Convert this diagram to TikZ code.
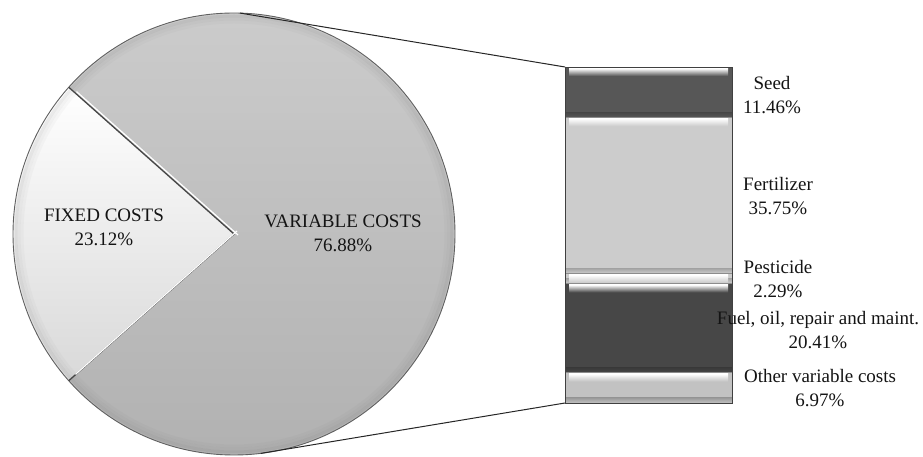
\documentclass[tikz,border=0pt]{standalone}
\usepackage{fontspec}
\setmainfont{Liberation Serif}
\begin{document}
\begin{tikzpicture}[x=1pt,y=1pt,
  lbl/.style={align=center, inner sep=0pt, text=black!92,
    font=\fontsize{19}{24}\selectfont},
  rim/.style={draw=gray!75!black, line width=0.9pt},
  link/.style={draw=black!85, line width=1pt}]
\useasboundingbox (0,0) rectangle (923,457);

% ---------- pie: fixed vs variable costs ----------
\definecolor{vartop}{gray}{0.80}
\definecolor{varbot}{gray}{0.69}
\definecolor{fixbot}{gray}{0.85}
\begin{scope}[shift={(234,223)}]
  % variable costs slice (76.88%)
  \shade[top color=vartop, bottom color=varbot]
    (0,0) -- (-138.4:221) arc[start angle=-138.4, end angle=138.4, radius=221] -- cycle;
  % fixed costs slice (23.12%)
  \shade[top color=white, bottom color=fixbot]
    (0,0) -- (138.4:221) arc[start angle=138.4, end angle=221.6, radius=221] -- cycle;
  % soft bevel along the rim
  \foreach \r/\op in {218/0.10, 215/0.06, 212/0.03}
    \draw[gray!60!black, opacity=\op, line width=3pt] (0,0) circle (\r);
  \draw[rim] (0,0) circle (221);
  % slice borders with light highlight
  \draw[gray!55!black, line width=1.3pt] (138.4:221) -- (0,0) -- (221.6:221);
  \draw[white, line width=1.2pt] ([shift={(4,-1)}]138.4:216) -- (4,-1);
  \draw[white, line width=1.2pt] ([shift={(3,3)}]221.6:216) -- (3,3);
  \coordinate (ptop) at (88.4:221);
  \coordinate (pbot) at (-83:221);
\end{scope}

% ---------- bar: breakdown of variable costs ----------
\newcommand{\barseg}[3]{%
  \fill[#3] (565,#2) rectangle (732,#1);
  \shade[top color=#3!80!black, bottom color=#3] (565,#2) rectangle (732,{#2+5});
  \shade[top color=white, bottom color=#3] (569,{#1-1.5}) rectangle (728,{#1-9});
  \draw[black!45, line width=0.6pt] (565,#2) rectangle (732,#1);
}
\definecolor{segdark}{gray}{0.34}
\definecolor{segfuel}{gray}{0.28}
\definecolor{seglight}{gray}{0.80}
\definecolor{segother}{gray}{0.76}
\barseg{390}{339.9}{segdark}
\barseg{339.9}{183.7}{seglight}
\barseg{183.7}{173.7}{seglight}
\barseg{173.7}{84.5}{segfuel}
\barseg{84.5}{54}{segother}
\draw[black!75, line width=0.9pt] (565,54) rectangle (732,390);
\coordinate (btop) at (565,390);
\coordinate (bbot) at (565,54);

% ---------- connectors ----------
\draw[link] (ptop) -- (btop);
\draw[link] (pbot) -- (bbot);

% ---------- labels ----------
\node[lbl] (lfixed) at (104,229.5) {FIXED COSTS\\23.12\%};
\node[lbl] (lvar) at (343,224) {VARIABLE COSTS\\76.88\%};
\node[lbl] (lseed) at (772,362) {Seed\\11.46\%};
\node[lbl] (lfert) at (778,260.5) {Fertilizer\\35.75\%};
\node[lbl] (lpest) at (778,177.5) {Pesticide\\2.29\%};
\node[lbl] (lfuel) at (818,127) {Fuel, oil, repair and maint.\\20.41\%};
\node[lbl] (lother) at (820,68.5) {Other variable costs\\6.97\%};
\end{tikzpicture}
\end{document}
